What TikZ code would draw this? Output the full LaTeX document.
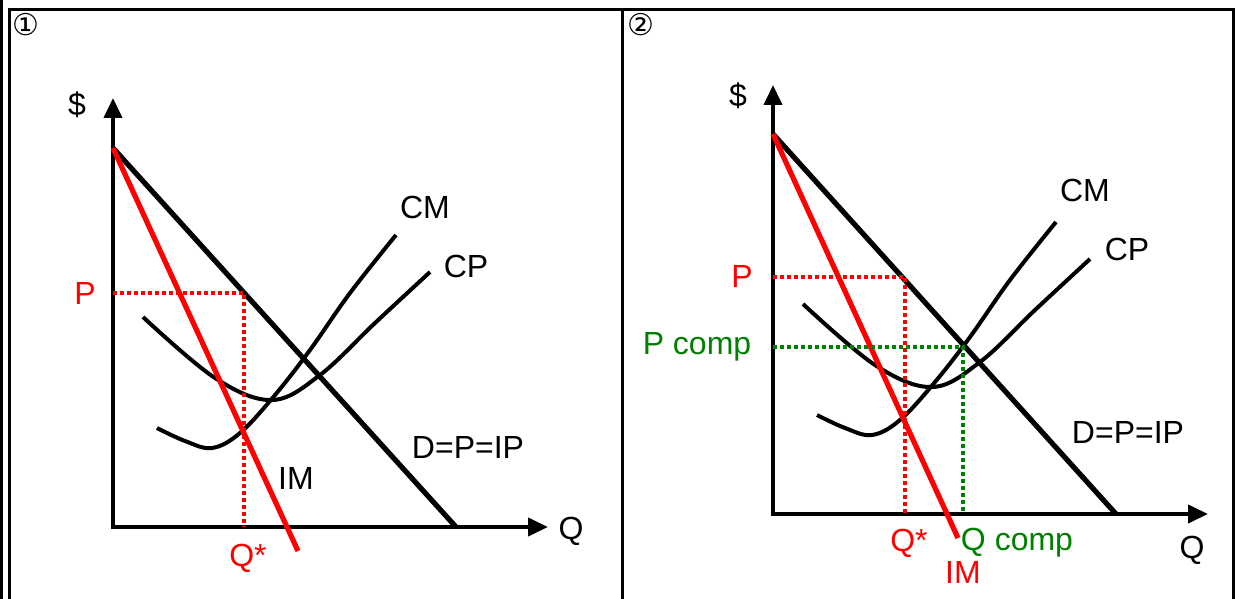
\documentclass[tikz,border=0pt]{standalone}
\usepackage{fontspec}
\setmainfont{Liberation Sans}
\newfontfamily\symbfont{DejaVu Sans}
\usetikzlibrary{arrows.meta, positioning}
\definecolor{vert}{RGB}{0,128,0}

\begin{document}
\begin{tikzpicture}[
  x=0.5pt, y=-0.5pt,
  axes/.style={line width=2pt,
               {Triangle[length=10pt, width=9pt]}-{Triangle[length=10pt, width=9pt]}},
  demande/.style={line width=2.6pt},
  recette/.style={line width=2.6pt, red},
  cout/.style={line width=2pt},
  pointille/.style={line width=1.8pt, dash pattern=on 1.8pt off 1.7pt},
  etiq/.style={font=\fontsize{16}{19}\selectfont, inner sep=0pt, anchor=base},
  numero/.style={font=\symbfont\fontsize{15}{17}\selectfont, inner sep=0pt}
]
  \useasboundingbox (0,0) rectangle (1242,599);

  %=========================================================
  % 0. Cadre du tableau
  %=========================================================
  \draw[line width=1.5pt] (1,0) -- (1,599);
  \draw[line width=1.5pt] (9,599) -- (9,10) -- (1233,10) -- (1233,599);
  \draw[line width=1.5pt] (622,10) -- (622,599);

  \node[numero] (num1) at (26,25) {①};
  \node[numero] (num2) at (641,25) {②};

  %=========================================================
  % 1. Monopole : equilibre Q*, P
  %=========================================================
  \coordinate (O1) at (113,527);
  \coordinate (Y1) at (113,98);
  \coordinate (X1) at (548,527);
  \coordinate (A1) at (113,148);
  \coordinate (D1) at (456,527);
  \coordinate (R1) at (298,551);
  \coordinate (E1) at (244,293);
  \coordinate (P1) at (113,293);
  \coordinate (Q1) at (244,527);

  \draw[axes] (Y1) -- (O1) -- (X1);
  \draw[demande] (A1) -- (D1);

  % courbes de cout
  \draw[cout] plot[smooth, tension=0.6] coordinates
    {(157,428) (185,441) (212,448) (240,433) (275,395) (310,350)
     (350,293) (396,235)};
  \draw[cout] plot[smooth, tension=0.6] coordinates
    {(143,317) (215,378) (272,400) (320,375) (375,323) (430,272)};

  \draw[recette] (A1) -- (R1);
  \draw[pointille, red] (P1) -- (E1) -- (Q1);

  \node[etiq] (dollar1) at (77,116) {\$};
  \node[etiq] (q1) at (571,539) {Q};
  \node[etiq, red] (p1) at (85,304) {P};
  \node[etiq, red] (qs1) at (248,566) {Q*};
  \node[etiq] (im1) at (296,489) {IM};
  \node[etiq] (d1) at (468,458) {D=P=IP};
  \node[etiq] (cm1) at (425,218) {CM};
  \node[etiq] (cp1) at (466,277) {CP};

  %=========================================================
  % 2. Comparaison avec la concurrence : Q comp, P comp
  %=========================================================
  \coordinate (O2) at (773,514);
  \coordinate (Y2) at (773,85);
  \coordinate (X2) at (1208,514);
  \coordinate (A2) at (773,134);
  \coordinate (D2) at (1116,514);
  \coordinate (R2) at (958,538);
  \coordinate (E2) at (905,277);
  \coordinate (P2) at (773,277);
  \coordinate (Q2) at (905,514);
  \coordinate (C2) at (963,347);
  \coordinate (Pc2) at (773,347);
  \coordinate (Qc2) at (963,514);

  \draw[axes] (Y2) -- (O2) -- (X2);
  \draw[demande] (A2) -- (D2);

  % courbes de cout
  \draw[cout] plot[smooth, tension=0.6] coordinates
    {(817,415) (845,428) (872,435) (900,420) (935,382) (970,337)
     (1010,280) (1056,222)};
  \draw[cout] plot[smooth, tension=0.6] coordinates
    {(803,304) (875,365) (932,387) (980,362) (1035,310) (1090,259)};

  \draw[recette] (A2) -- (R2);
  \draw[pointille, red] (P2) -- (E2) -- (Q2);
  \draw[pointille, vert] (Pc2) -- (C2) -- (Qc2);

  \node[etiq] (dollar2) at (738,106) {\$};
  \node[etiq] (q2) at (1192,558) {Q};
  \node[etiq, red] (p2) at (742,287) {P};
  \node[etiq, vert] (pc2) at (697,354) {P comp};
  \node[etiq, red] (qs2) at (909,551) {Q*};
  \node[etiq, vert] (qc2) at (1017,550) {Q comp};
  \node[etiq, red] (im2) at (963,583) {IM};
  \node[etiq] (d2) at (1128,443) {D=P=IP};
  \node[etiq] (cm2) at (1085,201) {CM};
  \node[etiq] (cp2) at (1127,260) {CP};

\end{tikzpicture}
\end{document}
